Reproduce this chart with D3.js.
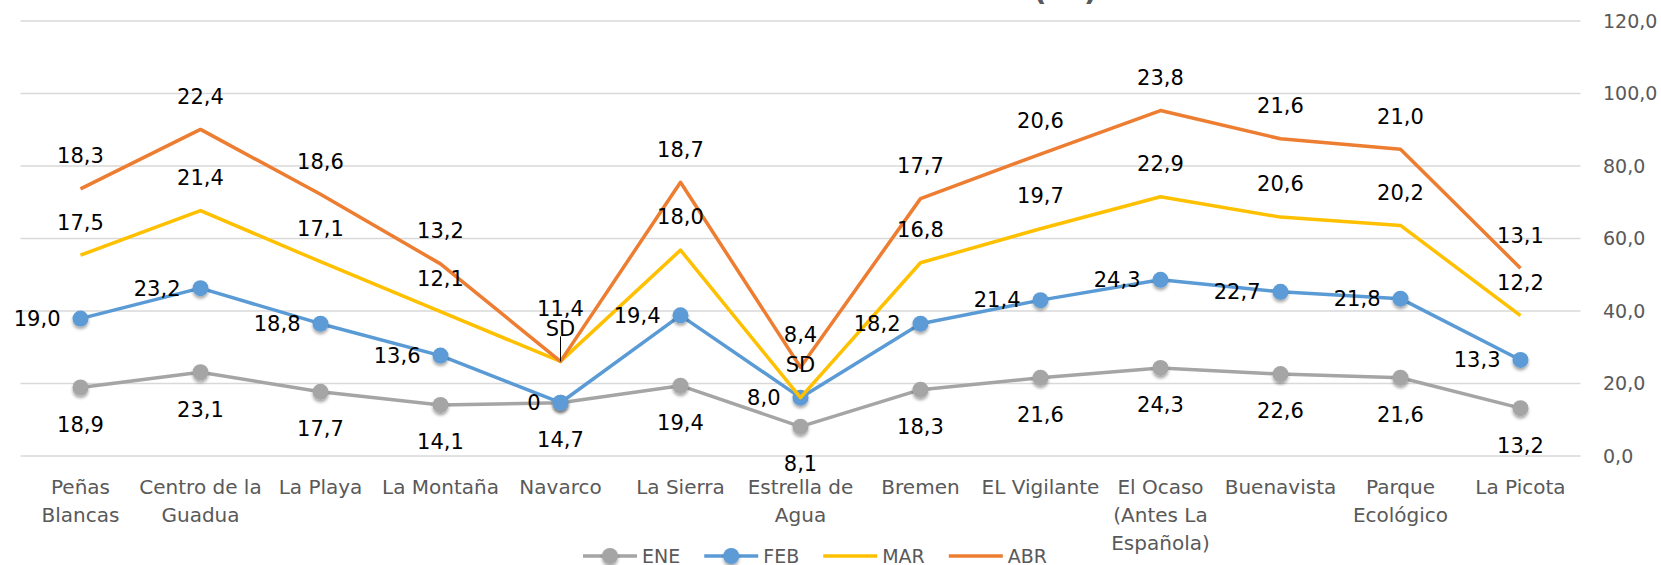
<!DOCTYPE html>
<meta charset="utf-8">
<head>
<style>
body { margin: 0; background: #fff; }
svg text { font-family: "DejaVu Sans", Lato, sans-serif; }
.grid line { stroke: #d9d9d9; stroke-width: 1.5px; }
.axis-label { fill: #595959; font-size: 19px; }
.cat-label { fill: #595959; font-size: 20px; }
.data-label { fill: #000; font-size: 21px; }
.legend-label { fill: #595959; font-size: 19px; }
.title { fill: #595959; font-size: 30px; font-weight: bold; }
</style>
</head>
<body>
<div id="chart"></div>
<script src="https://d3js.org/d3.v7.min.js"></script>
<script>
// categories (line breaks as in the original chart)
var categories = ["Peñas\nBlancas", "Centro de la\nGuadua", "La Playa", "La Montaña", "Navarco",
  "La Sierra", "Estrella de\nAgua", "Bremen", "EL Vigilante", "El Ocaso\n(Antes La\nEspañola)",
  "Buenavista", "Parque\nEcológico", "La Picota"];
// monthly values, null = SD (sin dato)
var ene = [18.9, 23.1, 17.7, 14.1, 14.7, 19.4, 8.1, 18.3, 21.6, 24.3, 22.6, 21.6, 13.2];
var feb = [19.0, 23.2, 18.8, 13.6, 0, 19.4, 8.0, 18.2, 21.4, 24.3, 22.7, 21.8, 13.3];
var mar = [17.5, 21.4, 17.1, 12.1, 11.4, 18.0, null, 16.8, 19.7, 22.9, 20.6, 20.2, 12.2];
var abr = [18.3, 22.4, 18.6, 13.2, null, 18.7, 8.4, 17.7, 20.6, 23.8, 21.6, 21.0, 13.1];
var seriesNames = ["ENE", "FEB", "MAR", "ABR"];
var yTicks = [0, 20, 40, 60, 80, 100, 120];
var title = "TEMPERATURA MEDIA MENSUAL POR ESTACIÓN (°C) 2019";

var colors = {ENE: "#a5a5a5", FEB: "#5b9bd5", MAR: "#ffc000", ABR: "#ed7d31"};
var markers = {ENE: true, FEB: true, MAR: false, ABR: false};

var width = 1661, height = 565;
var plot = {left: 20.5, right: 1580.5, top: 21, bottom: 456};

// build table for stacking
var table = categories.map(function(c, i) {
  return {cat: c, ENE: ene[i], FEB: feb[i], MAR: mar[i], ABR: abr[i]};
});
var stacked = d3.stack()
  .keys(seriesNames)
  .value(function(d, k) { return d[k] == null ? 0 : d[k]; })(table);

var x = d3.scaleBand().domain(categories).range([plot.left, plot.right]);
var y = d3.scaleLinear().domain([0, 120]).range([plot.bottom, plot.top]);
var cx = function(c) { return x(c) + x.bandwidth() / 2; };

var es = d3.formatLocale({decimal: ",", thousands: ".", grouping: [3], currency: ["$", ""]});
var fmt1 = es.format(".1f");

var svg = d3.select("#chart").append("svg")
    .attr("width", width)
    .attr("height", height);

var defs = svg.append("defs");
defs.append("filter").attr("id", "shadow")
    .attr("x", "-50%").attr("y", "-50%").attr("width", "200%").attr("height", "200%")
  .append("feDropShadow")
    .attr("dx", 0).attr("dy", 2.5).attr("stdDeviation", 1.5)
    .attr("flood-color", "#000").attr("flood-opacity", 0.35);

// title, mostly cut by the top edge
var t = svg.append("text").attr("class", "title").attr("y", 0).text(title);
var pIdx = title.indexOf("(");
var before = t.node().getSubStringLength(0, pIdx);
t.attr("x", 1033 - before);

// gridlines
svg.append("g").attr("class", "grid")
  .selectAll("line").data(yTicks).enter().append("line")
    .attr("x1", plot.left).attr("x2", plot.right)
    .attr("y1", function(d) { return y(d); })
    .attr("y2", function(d) { return y(d); });

// right axis labels
svg.append("g").selectAll("text").data(yTicks).enter().append("text")
    .attr("class", "axis-label")
    .attr("x", 1603)
    .attr("y", function(d) { return y(d); })
    .attr("dy", "0.35em")
    .text(function(d) { return fmt1(d); });

// category labels
var cl = svg.append("g").selectAll("text").data(categories).enter().append("text")
    .attr("class", "cat-label")
    .attr("text-anchor", "middle")
    .attr("x", function(d) { return cx(d); })
    .attr("y", 494);
cl.selectAll("tspan").data(function(d) { return d.split("\n"); }).enter().append("tspan")
    .attr("x", function() { return cx(d3.select(this.parentNode).datum()); })
    .attr("dy", function(d, i) { return i === 0 ? 0 : 28; })
    .text(function(d) { return d; });

// lines
var line = d3.line()
    .x(function(d) { return cx(d.data.cat); })
    .y(function(d) { return y(d[1]); });

stacked.forEach(function(s) {
  svg.append("path")
      .datum(s)
      .attr("fill", "none")
      .attr("stroke", colors[s.key])
      .attr("stroke-width", 3.5)
      .attr("stroke-linejoin", "round")
      .attr("d", line);
  if (markers[s.key]) {
    svg.append("g").selectAll("circle").data(s).enter().append("circle")
        .attr("cx", function(d) { return cx(d.data.cat); })
        .attr("cy", function(d) { return y(d[1]); })
        .attr("r", 8)
        .attr("fill", colors[s.key])
        .attr("filter", "url(#shadow)");
  }
});

// leader line for the moved Navarco label
var nav = stacked[2][4];
svg.append("line")
    .attr("x1", cx(nav.data.cat)).attr("x2", cx(nav.data.cat))
    .attr("y1", y(nav[1]) - 25).attr("y2", y(nav[1]))
    .attr("stroke", "#000").attr("stroke-width", 1);

// data labels
var labelText = function(v) {
  if (v == null) return "SD";
  if (v === 0) return "0";
  return fmt1(v);
};
stacked.forEach(function(s) {
  svg.append("g").selectAll("text").data(s).enter().append("text")
      .attr("class", "data-label")
      .attr("text-anchor", s.key === "FEB" ? "end" : "middle")
      .attr("x", function(d) { return s.key === "FEB" ? cx(d.data.cat) - 20 : cx(d.data.cat); })
      .attr("y", function(d) {
        var py = y(d[1]);
        if (s.key === "ENE") return py + 37;
        if (s.key === "FEB") return py;
        if (s.key === "MAR" && d.data.cat === "Navarco") return py - 53;
        return py - 33;
      })
      .attr("dy", "0.35em")
      .text(function(d) { return labelText(d.data[s.key]); });
});

// legend
var lg = svg.append("g");
var lx = 583, ly = 556;
seriesNames.forEach(function(k) {
  lg.append("line")
      .attr("x1", lx).attr("x2", lx + 54)
      .attr("y1", ly).attr("y2", ly)
      .attr("stroke", colors[k]).attr("stroke-width", 3.5);
  if (markers[k]) {
    lg.append("circle")
        .attr("cx", lx + 27).attr("cy", ly).attr("r", 8)
        .attr("fill", colors[k]).attr("filter", "url(#shadow)");
  }
  var tx = lg.append("text")
      .attr("class", "legend-label")
      .attr("x", lx + 59).attr("y", ly)
      .attr("dy", "0.35em")
      .text(k);
  lx += 59 + tx.node().getComputedTextLength() + 24;
});
</script>
</body>
